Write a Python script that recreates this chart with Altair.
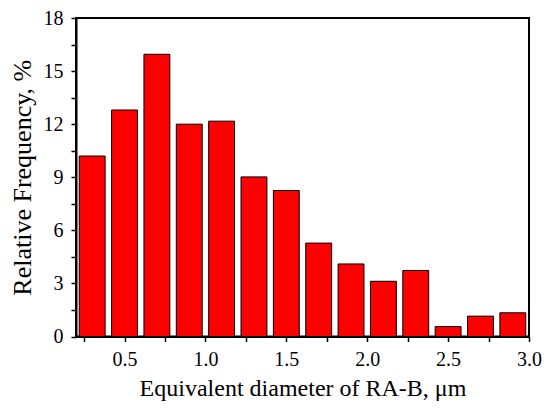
import altair as alt
import pandas as pd

bin_start = [0.2, 0.4, 0.6, 0.8, 1.0, 1.2, 1.4, 1.6, 1.8, 2.0, 2.2, 2.4, 2.6, 2.8]
freq = [10.2, 12.8, 15.95, 12.0, 12.17, 9.02, 8.25, 5.28, 4.1, 3.12, 3.73, 0.56, 1.15, 1.34]

gap = 0.02
df = pd.DataFrame({
    "x0": [b + gap for b in bin_start],
    "x1": [b + 0.2 - gap for b in bin_start],
    "f": freq,
})

font = "Liberation Serif"
x_vals = [0.25, 0.5, 0.75, 1.0, 1.25, 1.5, 1.75, 2.0, 2.25, 2.5, 2.75, 3.0]
y_vals = [0, 1.5, 3, 4.5, 6, 7.5, 9, 10.5, 12, 13.5, 15, 16.5, 18]

chart = alt.Chart(df).mark_bar(color="#FF0000", stroke="black", strokeWidth=1).encode(
    x=alt.X("x0:Q", scale=alt.Scale(domain=[0.2, 3.0], nice=False, zero=False),
            axis=alt.Axis(values=x_vals, title="Equivalent diameter of RA-B, μm",
                          labelExpr="datum.value % 0.5 == 0 ? format(datum.value, '.1f') : ''",
                          titlePadding=7, titleFontSize=24)),
    x2="x1:Q",
    y=alt.Y("f:Q", scale=alt.Scale(domain=[0, 18], nice=False),
            axis=alt.Axis(values=y_vals, title="Relative Frequency, %",
                          labelExpr="datum.value % 3 == 0 ? format(datum.value, 'd') : ''",
                          titlePadding=8, titleFontSize=26)),
    y2=alt.Y2(datum=0),
).properties(
    width=453, height=318.5,
    autosize=alt.AutoSizeParams(type="none"),
    padding={"left": 68, "top": 10, "right": 13, "bottom": 66},
).configure_view(stroke="black", strokeWidth=2).configure_axis(
    grid=False, domainColor="black", domainWidth=2,
    tickColor="black", tickWidth=1.5, tickSize=5,
    labelFont=font, labelFontSize=20, labelColor="black", labelPadding=8,
    titleFont=font, titleFontWeight="normal",
    titleColor="black", labelFlush=False,
)

chart.save("out.html", embed_options={"renderer": "svg", "actions": False})
